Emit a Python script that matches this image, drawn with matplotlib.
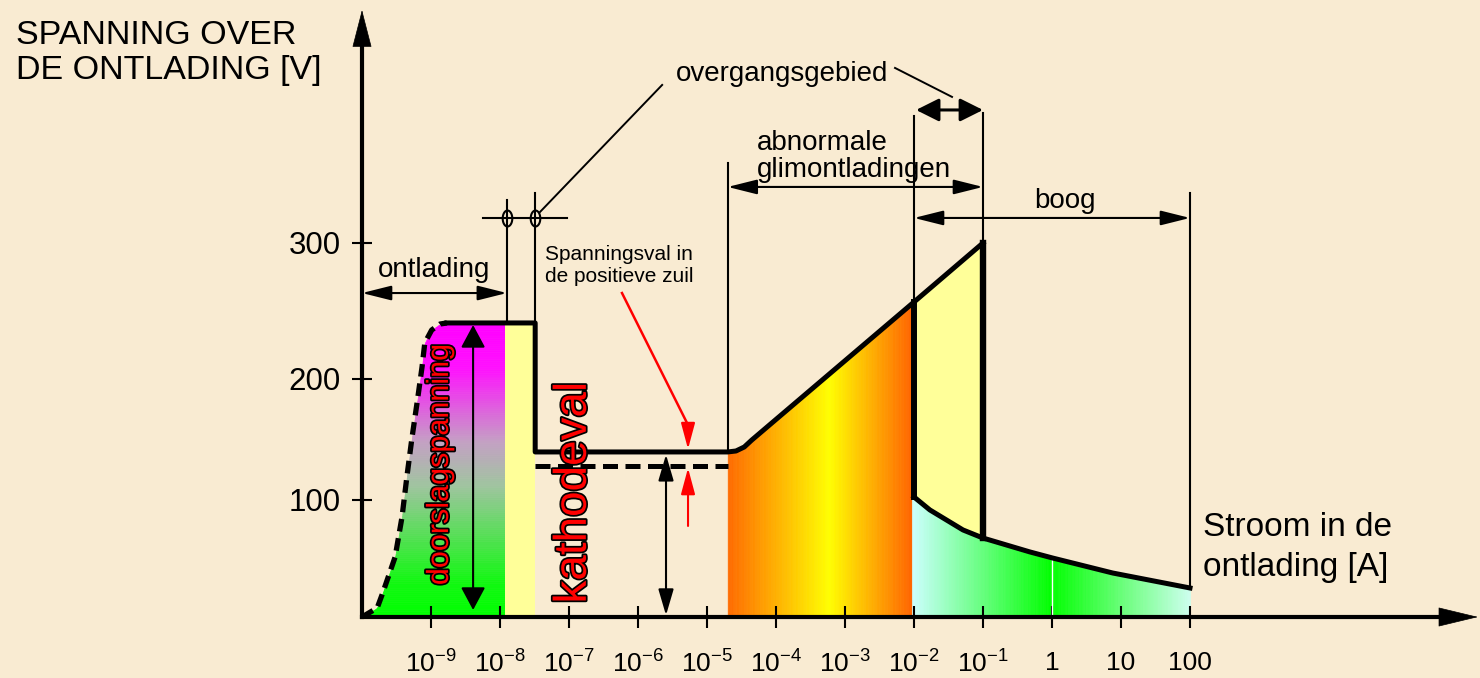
import numpy as np
import matplotlib
matplotlib.use("Agg")
import matplotlib.pyplot as plt
import matplotlib.patheffects as pe
from matplotlib.colors import LinearSegmentedColormap

plt.rcParams["font.family"] = ["Liberation Sans", "DejaVu Sans"]
plt.rcParams["mathtext.fontset"] = "custom"
plt.rcParams["mathtext.rm"] = "Liberation Sans"

# ---- data: current as log10(I / A), voltage in V ----
decades = list(range(-9, 3))
current_labels = [r"$\mathregular{10^{%d}}$" % k for k in range(-9, 0)] + ["1", "10", "100"]
voltage_ticks = [100, 200, 300]

# breakdown (dashed) part
breakdown_logI = [-10.0, -9.78, -9.70, -9.52, -9.42, -9.35, -9.28, -9.19, -9.13, -9.09, -8.99, -8.87, -8.77]
breakdown_V = [0, 7.7, 20.5, 51.3, 85.5, 119.0, 149.6, 185.1, 208.8, 226.5, 236.0, 240.4, 241.2]

# plateau, normal glow and abnormal glow (solid)
glow_logI = [-8.77, -7.49, -7.49, -4.70, -4.58, -4.46, -4.35, -2.0, -1.0]
glow_V = [241.2, 241.2, 139.7, 139.7, 140.5, 143.8, 149.6, 256.6, 300.0]

# arc
arc_logI = [-2.0, -1.77, -1.29, -1.0, -0.32, 0.01, 0.88, 2.0]
arc_V = [102.5, 91.5, 74.4, 67.5, 55.6, 50.4, 37.6, 24.8]

cathode_fall_V = 128.1          # dashed level
cathode_logI = [-7.49, -4.70]   # extent of dashed level
strip_logI = [-7.93, -7.49]     # pale yellow strip after breakdown
abnormal_start = -4.70
transition_logI = [-2.0, -1.0]
arc_end = 2.0

# nonlinear voltage axis as drawn (V -> height)
V_PTS = [-100, 0, 100, 200, 300, 600]
H_PTS = [-117, 0, 117, 238, 374, 782]


def fwd(v):
    return np.interp(v, V_PTS, H_PTS)


def inv(h):
    return np.interp(h, H_PTS, V_PTS)


def on_curve(x, xp, vp):
    # straight on screen between read points
    return inv(np.interp(x, xp, fwd(np.asarray(vp, dtype=float))))


BG = "#F9EBD2"
fig = plt.figure(figsize=(14.8, 6.78), dpi=100, facecolor=BG)
ax = fig.add_axes([362 / 1480, 61 / 678, 1116 / 1480, 607 / 678])
ax.set_facecolor("none")
ax.set_xscale("log")
ax.set_yscale("function", functions=(fwd, inv))
ax.set_xlim(1e-10, 10 ** 6.174)
ax.set_ylim(0, 471.3)

# ---- gradient fills ----
cmap_mg = LinearSegmentedColormap.from_list(
    "mg", [(0, "#00FF00"), (0.12, "#12F812"), (0.45, "#A0C4A0"),
           (0.6, "#C4A0C4"), (0.85, "#FF10FF"), (1, "#FF00FF")])
cmap_or = LinearSegmentedColormap.from_list(
    "or", [(0, "#FF6A00"), (0.55, "#FFFF00"), (1, "#FF6400")])
cmap_cy = LinearSegmentedColormap.from_list(
    "cy", [(0, "#CCFFFF"), (0.5, "#00FF00"), (1, "#CCFFEE")])

n = 140
h_edges = np.linspace(0, fwd(breakdown_V[-1]), n + 1)
for i in range(n):
    hs = h_edges[i:i + 2]
    left = np.interp(hs, fwd(np.array(breakdown_V)), breakdown_logI)
    c = cmap_mg((i + 0.5) / n)
    ax.fill_betweenx(inv(hs), 10 ** left, 10 ** strip_logI[0], color=c, ec=c, lw=0.5, zorder=1)

ax.fill_between(10 ** np.array(strip_logI), 0, breakdown_V[-1] - 1, color="#FFFF99", lw=0, zorder=1)


def vstrips(x0, x1, top, cmap, n=150):
    edges = np.linspace(x0, x1, n + 1)
    for i in range(n):
        xs = edges[i:i + 2]
        c = cmap((i + 0.5) / n)
        ax.fill_between(10 ** xs, 0, top(xs), color=c, ec=c, lw=0.5, zorder=1)


vstrips(abnormal_start, -2.03, lambda x: on_curve(x, glow_logI[3:], glow_V[3:]), cmap_or)
vstrips(-2.03, arc_end, lambda x: on_curve(x, arc_logI, arc_V), cmap_cy, n=200)

xs = np.linspace(transition_logI[0], transition_logI[1], 60)
ax.fill_between(10 ** xs, on_curve(xs, arc_logI, arc_V), on_curve(xs, glow_logI[3:], glow_V[3:]),
                color="#FFFF99", lw=0, zorder=1)
ax.plot([1, 1], [0, on_curve(0.0, arc_logI, arc_V)], color="white", lw=1, zorder=2)

# ---- characteristic ----
ax.plot(10 ** np.array(breakdown_logI), breakdown_V, color="k", lw=3.8,
        ls=(0, (2.4, 1.3)), zorder=4)
ax.plot(10 ** np.array(glow_logI), glow_V, color="k", lw=3.6, zorder=4, solid_joinstyle="round")
ax.plot(10 ** np.array(arc_logI), arc_V, color="k", lw=3.6, zorder=4)
ax.plot([10 ** transition_logI[0]] * 2, [glow_V[7], arc_V[0]], color="k", lw=4.3, zorder=4)
ax.plot([10 ** transition_logI[1]] * 2, [glow_V[8], arc_V[3]], color="k", lw=4.6, zorder=4)
ax.plot(10 ** np.array(cathode_logI), [cathode_fall_V] * 2, color="k", lw=3.6,
        ls=(0, (3.0, 1.5)), zorder=4)


# ---- dimension lines ----
def vline(x, v0, v1):
    ax.plot([10 ** x] * 2, [v0, v1], color="k", lw=1.5, zorder=3)


def arrow(p0, p1, hl=1.8, hw=0.45, color="k", lw=1.5, style="<|-|>"):
    ax.annotate("", xy=(10 ** p1[0], p1[1]), xytext=(10 ** p0[0], p0[1]), annotation_clip=False,
                arrowprops=dict(arrowstyle=f"{style},head_length={hl},head_width={hw}",
                                mutation_scale=10, lw=lw, color=color, shrinkA=0, shrinkB=0),
                zorder=5)


vline(-7.90, 331.6, 241.2)
vline(-7.49, 336.8, 241.2)
vline(abnormal_start, 358.8, 139.7)
vline(-2.0, 393.4, 256.6)
vline(-1.0, 395.6, 300.0)
vline(arc_end, 336.8, arc_V[-1])

ax.plot([10 ** -8.25, 10 ** -7.03], [318.4, 318.4], color="k", lw=1.5)
t = np.linspace(0, 2 * np.pi, 60)
ellipse = np.column_stack([0.6 * np.cos(t), np.sin(t)])
ax.plot([10 ** -7.90, 10 ** -7.49], [318.4, 318.4], ls="none", marker=ellipse, ms=11.5,
        mfc="none", mec="k", mew=1.5)
ax.plot([10 ** -7.42, 10 ** -5.65], [322.8, 416.2], color="k", lw=1.4)
ax.plot([10 ** -2.275, 10 ** -1.449], [428.7, 407.4], color="k", lw=1.4)

arrow((-10.0, 263.2), (-7.90, 263.2))
arrow((abnormal_start, 341.2), (-1.0, 341.2))
arrow((-1.97, 397.8), (-1.0, 397.8), hl=1.4, hw=0.7, lw=2.2)
arrow((-2.0, 318.4), (arc_end, 318.4))
arrow((-8.39, 6.0), (-8.39, 239.7), hl=1.4, hw=0.75)
arrow((-5.594, 1.5), (-5.594, 137.5), hl=1.6, hw=0.47)

# red arrows (voltage drop in positive column)
ax.plot([10 ** -6.232, 10 ** -5.275], [263.2, 162.0], color="#FF0000", lw=1.8, zorder=5)
arrow((-5.275, 162.0), (-5.275, 142.1), hl=1.6, hw=0.43, color="#FF0000", style="-|>")
arrow((-5.275, 77.8), (-5.275, 126.4), hl=1.6, hw=0.43, color="#FF0000", style="-|>")

# ---- axes ----
for s in ["top", "right"]:
    ax.spines[s].set_visible(False)
ax.spines["left"].set_linewidth(3)
ax.spines["bottom"].set_linewidth(3)
ax.spines["left"].set_bounds(0, 450)
ax.spines["bottom"].set_bounds(1e-10, 10 ** 5.7)
ax.annotate("", xy=(0, 1), xytext=(0, 0.9), xycoords="axes fraction", annotation_clip=False,
            arrowprops=dict(arrowstyle="-|>,head_length=2.52,head_width=0.65", mutation_scale=10,
                            lw=0.5, color="k", shrinkA=0, shrinkB=0))
ax.annotate("", xy=(1, 0), xytext=(0.95, 0), xycoords="axes fraction", annotation_clip=False,
            arrowprops=dict(arrowstyle="-|>,head_length=2.7,head_width=0.65", mutation_scale=10,
                            lw=0.5, color="k", shrinkA=0, shrinkB=0))

ax.set_xticks([10.0 ** k for k in decades])
ax.set_xticklabels(current_labels)
ax.set_yticks(voltage_ticks)
ax.set_yticklabels([str(v) for v in voltage_ticks])
ax.minorticks_off()
ax.tick_params(axis="x", direction="inout", length=16.5, width=1.5, labelsize=19, pad=16)
ax.tick_params(axis="y", direction="inout", length=15, width=1.5, labelsize=22.5, pad=8)

# ---- texts ----
outline = [pe.withStroke(linewidth=2.5, foreground="k")]
ax.text(10 ** -8.87, 128.9, "doorslagspanning", rotation=90, ha="center", va="center",
        fontsize=22, color="#FF0000", path_effects=outline, zorder=6)
ax.text(10 ** -6.93, 106.2, "kathodeval", rotation=90, ha="center", va="center",
        fontsize=33, color="#FF0000", path_effects=outline, zorder=6)

ax.text(10 ** -8.957, 280.1, "ontlading", ha="center", va="center", fontsize=20)
ax.text(10 ** -5.449, 419.1, "overgangsgebied", ha="left", va="baseline", fontsize=20)
ax.text(10 ** -4.275, 348.5, "abnormale\nglimontladingen", ha="left", va="baseline",
        fontsize=20, linespacing=1.05)
ax.text(10 ** 0.188, 325.7, "boog", ha="center", va="baseline", fontsize=20)
ax.text(10 ** -7.348, 271.3, "Spanningsval in\nde positieve zuil", ha="left", va="baseline",
        fontsize=15, linespacing=1.18)

fig.text(16 / 1480, 1 - 20 / 678, "SPANNING OVER\nDE ONTLADING [V]", ha="left", va="top",
         fontsize=24.5, linespacing=1.17)
fig.text(1203 / 1480, 1 - 512 / 678, "Stroom in de\nontlading [A]", ha="left", va="top",
         fontsize=24, linespacing=1.37)

fig.savefig("out.png", dpi=100, facecolor=BG)
